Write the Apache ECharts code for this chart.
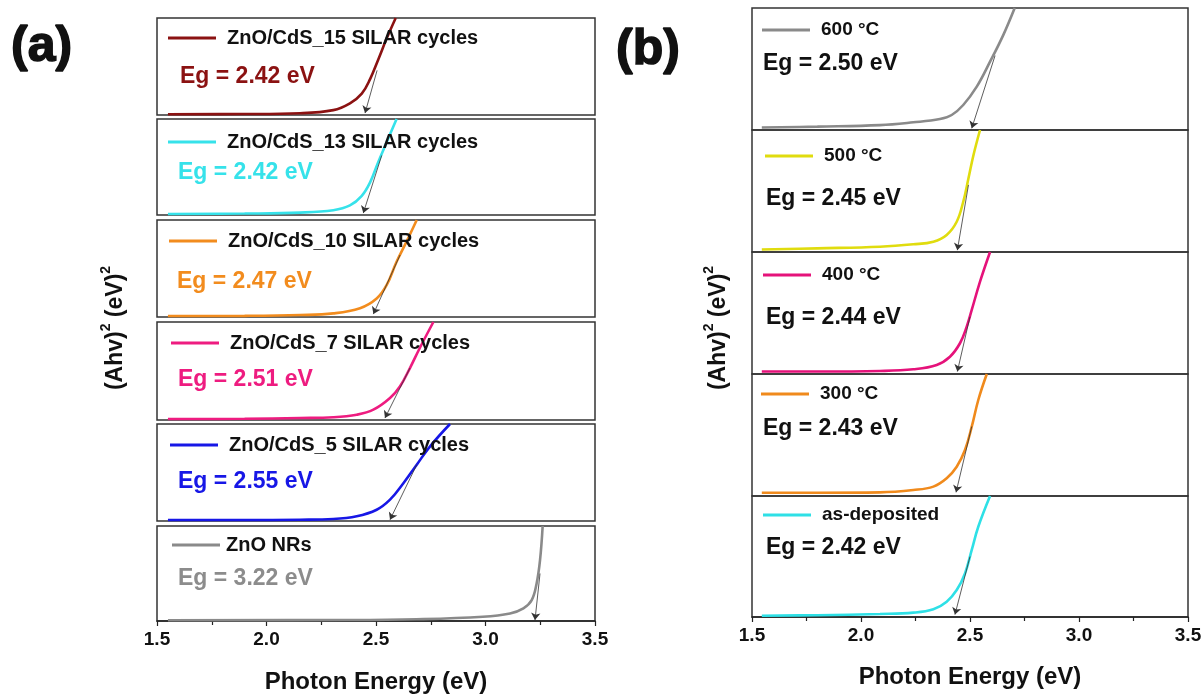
<!DOCTYPE html>
<html>
<head>
<meta charset="utf-8">
<script src="https://cdn.jsdelivr.net/npm/echarts@6/dist/echarts.min.js"></script>
<style>
  html, body { margin: 0; padding: 0; background: #fff; }
  #chart { width: 1204px; height: 695px; }
</style>
</head>
<body>
<div id="chart"></div>
<script>
// x axis (photon energy, eV)
const xMin = 1.5, xMax = 3.5, xStep = 0.5;
const tickLabels = ["1.5", "2.0", "2.5", "3.0", "3.5"];

// (a) ZnO/CdS with different SILAR cycles, y normalised 0..1 per box
const namesA = ["ZnO/CdS_15 SILAR cycles", "ZnO/CdS_13 SILAR cycles", "ZnO/CdS_10 SILAR cycles",
  "ZnO/CdS_7 SILAR cycles", "ZnO/CdS_5 SILAR cycles", "ZnO NRs"];
const colorsA = ["#8B1212", "#36E2EA", "#F28C1E", "#EE1C80", "#1717E6", "#8A8A8A"];
const egA = ["2.42", "2.42", "2.47", "2.51", "2.55", "3.22"];

const cycles15 = [[1.55, 0.008], [1.9, 0.01], [2.153, 0.018], [2.305, 0.05], [2.381, 0.12], [2.435, 0.22],
  [2.473, 0.37], [2.51, 0.57], [2.549, 0.79], [2.59, 1.0]];
const cycles13 = [[1.55, 0.01], [1.9, 0.015], [2.153, 0.025], [2.305, 0.05], [2.381, 0.1], [2.435, 0.2],
  [2.473, 0.34], [2.51, 0.55], [2.549, 0.76], [2.594, 1.0]];
const cycles10 = [[1.55, 0.01], [1.9, 0.012], [2.153, 0.02], [2.305, 0.037], [2.427, 0.09], [2.503, 0.19],
  [2.549, 0.33], [2.594, 0.57], [2.64, 0.78], [2.686, 1.0]];
const cycles7 = [[1.55, 0.01], [1.9, 0.012], [2.153, 0.02], [2.305, 0.028], [2.412, 0.054], [2.488, 0.105],
  [2.564, 0.224], [2.61, 0.344], [2.655, 0.53], [2.70, 0.735], [2.762, 1.0]];
const cycles5 = [[1.55, 0.01], [1.9, 0.01], [2.153, 0.013], [2.305, 0.02], [2.412, 0.048], [2.503, 0.116],
  [2.564, 0.22], [2.625, 0.39], [2.686, 0.58], [2.747, 0.77], [2.838, 1.0]];
const znoNRs = [[1.55, 0.008], [2.383, 0.01], [2.685, 0.018], [2.988, 0.045], [3.112, 0.08], [3.173, 0.134],
  [3.211, 0.22], [3.233, 0.39], [3.249, 0.64], [3.261, 1.0]];
const curvesA = [cycles15, cycles13, cycles10, cycles7, cycles5, znoNRs];

// tangent lines: [point on curve, arrow tip on baseline]
const tangentsA = [
  [[2.505, 0.46], [2.45, 0.02]],
  [[2.526, 0.62], [2.442, 0.02]],
  [[2.61, 0.64], [2.488, 0.03]],
  [[2.655, 0.53], [2.541, 0.02]],
  [[2.686, 0.58], [2.564, 0.013]],
  [[3.249, 0.5], [3.226, 0.01]]
];

// (b) annealing temperature series
const namesB = ["600 °C", "500 °C", "400 °C", "300 °C", "as-deposited"];
const colorsB = ["#8A8A8A", "#E0DC0E", "#E5127A", "#F08A1C", "#2EE0E6"];
const egB = ["2.50", "2.45", "2.44", "2.43", "2.42"];

const temp600 = [[1.545, 0.02], [1.8, 0.028], [2.087, 0.04], [2.24, 0.063], [2.362, 0.09], [2.416, 0.123],
  [2.469, 0.205], [2.531, 0.355], [2.592, 0.56], [2.653, 0.78], [2.705, 1.0]];
const temp500 = [[1.545, 0.02], [1.8, 0.03], [2.087, 0.043], [2.24, 0.063], [2.332, 0.085], [2.393, 0.14],
  [2.439, 0.248], [2.469, 0.412], [2.493, 0.604], [2.516, 0.795], [2.546, 1.0]];
const temp400 = [[1.545, 0.02], [1.8, 0.02], [2.087, 0.025], [2.24, 0.039], [2.347, 0.074], [2.408, 0.142],
  [2.454, 0.252], [2.485, 0.388], [2.508, 0.525], [2.546, 0.757], [2.592, 1.0]];
const temp300 = [[1.545, 0.027], [1.8, 0.027], [2.087, 0.03], [2.24, 0.049], [2.332, 0.077], [2.393, 0.145],
  [2.439, 0.24], [2.477, 0.377], [2.508, 0.568], [2.538, 0.787], [2.577, 1.0]];
const asDeposited = [[1.545, 0.01], [1.8, 0.015], [2.087, 0.025], [2.24, 0.036], [2.332, 0.064], [2.393, 0.127],
  [2.439, 0.223], [2.477, 0.36], [2.508, 0.554], [2.538, 0.746], [2.592, 1.0]];
const curvesB = [temp600, temp500, temp400, temp300, asDeposited];

const tangentsB = [
  [[2.615, 0.61], [2.508, 0.014]],
  [[2.493, 0.55], [2.442, 0.015]],
  [[2.5, 0.47], [2.442, 0.02]],
  [[2.508, 0.57], [2.436, 0.03]],
  [[2.5, 0.5], [2.431, 0.02]]
];

// layout
const FONT = "Liberation Sans, Arial, sans-serif";
const boxesA = [[18, 97], [119, 96], [220, 97], [322, 98], [424, 97], [526, 95]]; // [top, height]
const boxesB = [[8, 122], [130, 122], [252, 122], [374, 122], [496, 121]];
const legendPosA = [[168, 38], [168, 142], [169, 241], [171, 343], [170, 445], [172, 545]];
const legendPosB = [[762, 30], [765, 156], [763, 275], [761, 394], [763, 515]];
const egPosA = [[180, 77], [178, 173], [177, 282], [178, 380], [178, 482], [178, 579]];
const egPosB = [[763, 64], [766, 199], [766, 318], [763, 429], [766, 548]];

const grids = [], xAxes = [], yAxes = [], series = [], legends = [], graphics = [];

function addPanel(p) {
  p.boxes.forEach((box, i) => {
    const idx = grids.length;
    const isBottom = i === p.boxes.length - 1;
    grids.push({
      left: p.left, top: box[0], width: p.width, height: box[1],
      show: true, borderColor: "#333", borderWidth: 1.5, backgroundColor: "transparent",
      outerBoundsMode: "none"
    });
    xAxes.push({
      gridIndex: idx, type: "value", min: xMin, max: xMax, interval: xStep,
      axisLine: { show: isBottom, lineStyle: { color: "#222", width: 1.5 } },
      axisTick: { show: isBottom, inside: false, length: 5, lineStyle: { color: "#222", width: 1.2 } },
      minorTick: { show: isBottom, splitNumber: 2, length: 4, lineStyle: { color: "#222", width: 1.2 } },
      splitLine: { show: false },
      axisLabel: {
        show: isBottom, margin: 9, color: "#111", fontSize: 19, fontWeight: "bold", fontFamily: FONT,
        formatter: (v) => tickLabels[Math.round((v - xMin) / xStep)]
      },
      name: isBottom ? "Photon Energy (eV)" : "",
      nameLocation: "middle", nameGap: p.nameGap,
      nameTextStyle: { color: "#111", fontSize: 24, fontWeight: "bold", fontFamily: FONT }
    });
    yAxes.push({
      gridIndex: idx, type: "value", min: 0, max: 1, show: false, splitLine: { show: false }
    });
    series.push({
      name: p.names[i], type: "line", xAxisIndex: idx, yAxisIndex: idx,
      data: p.curves[i], smooth: 0.4, showSymbol: false, clip: true,
      color: p.colors[i], lineStyle: { color: p.colors[i], width: 2.6 },
      markLine: {
        silent: true, symbol: ["none", "arrow"], symbolSize: 7,
        lineStyle: { color: "#333", width: 0.8, type: "solid" },
        label: { show: false },
        data: [[{ coord: p.tangents[i][0] }, { coord: p.tangents[i][1] }]]
      }
    });
    legends.push({
      data: [p.names[i]], left: p.legendPos[i][0], top: p.legendPos[i][1] - p.legendLH / 2,
      padding: 0, icon: "rect", itemWidth: 48, itemHeight: 3, selectedMode: false,
      textStyle: {
        color: "#111", fontSize: p.legendFont, fontWeight: "bold", fontFamily: FONT,
        lineHeight: p.legendLH, padding: [0, 0, 0, p.legendGap[i]]
      }
    });
    graphics.push({
      type: "text", x: p.egPos[i][0], y: p.egPos[i][1],
      style: {
        text: "Eg = " + p.eg[i] + " eV", fill: p.egColors ? p.egColors[i] : "#111",
        font: "bold 23px " + FONT, textAlign: "left", textVerticalAlign: "middle",
        align: "left", verticalAlign: "middle"
      }
    });
  });
}

addPanel({
  boxes: boxesA, left: 157, width: 438, names: namesA, colors: colorsA, curves: curvesA,
  tangents: tangentsA, legendPos: legendPosA, legendFont: 20, legendLH: 22, legendGap: [6, 6, 6, 6, 6, 1],
  egPos: egPosA, eg: egA, egColors: ["#8B1212", "#36E2EA", "#F28C1E", "#EE1C80", "#1717E6", "#8C8C8C"],
  nameGap: 49
});
addPanel({
  boxes: boxesB, left: 752, width: 436, names: namesB, colors: colorsB, curves: curvesB,
  tangents: tangentsB, legendPos: legendPosB, legendFont: 19, legendLH: 20, legendGap: [6, 6, 6, 6, 6],
  egPos: egPosB, eg: egB, egColors: null, nameGap: 48
});

// y axis titles and panel letters
const yTitleRich = {
  m: { fontSize: 23, fontWeight: "bold", fontFamily: FONT, fill: "#111", color: "#111", lineHeight: 28, verticalAlign: "bottom" },
  s: { fontSize: 14, fontWeight: "bold", fontFamily: FONT, fill: "#111", color: "#111", verticalAlign: "top" }
};
[[113, 328], [716, 328]].forEach(([x, y]) => {
  graphics.push({
    type: "text", x: x, y: y, rotation: Math.PI / 2,
    style: {
      text: "{m|(Ahv)}{s|2}{m| (eV)}{s|2}", rich: yTitleRich,
      textAlign: "center", textVerticalAlign: "middle", align: "center", verticalAlign: "middle"
    }
  });
});
[["(a)", 11, 47], ["(b)", 616, 50]].forEach(([t, x, y]) => {
  graphics.push({
    type: "text", x: x, y: y,
    style: {
      text: t, fill: "#111", stroke: "#111", lineWidth: 1.5, font: "bold 50px " + FONT,
      textAlign: "left", textVerticalAlign: "middle", align: "left", verticalAlign: "middle"
    }
  });
});

const chart = echarts.init(document.getElementById("chart"));
chart.setOption({
  animation: false,
  backgroundColor: "#fff",
  grid: grids,
  xAxis: xAxes,
  yAxis: yAxes,
  legend: legends,
  series: series,
  graphic: graphics
});
</script>
</body>
</html>
